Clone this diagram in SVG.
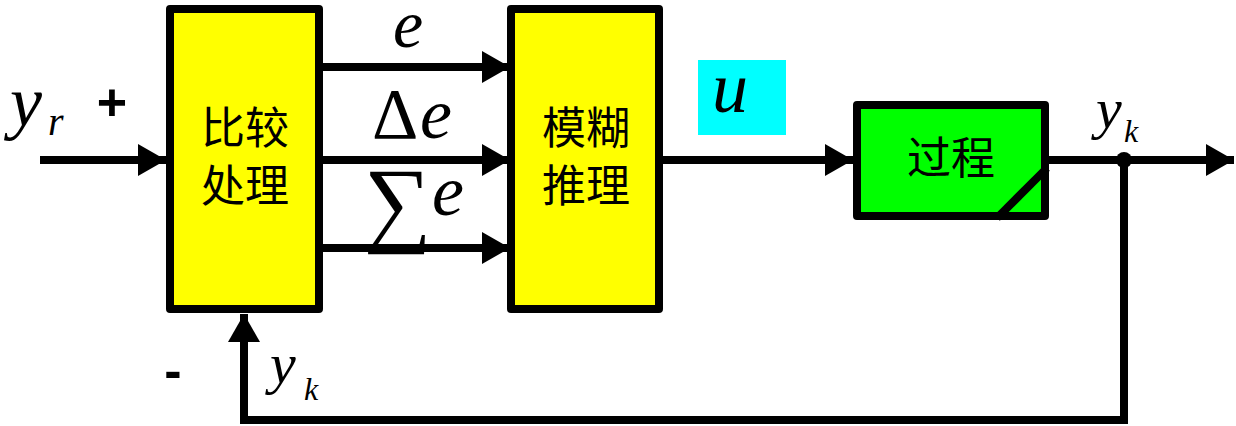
<svg xmlns="http://www.w3.org/2000/svg" width="1236" height="426" viewBox="0 0 1236 426">
<style>
.box{stroke:#000;stroke-width:8;stroke-linejoin:round}
.ln{stroke:#000;stroke-width:8;fill:none}
.cjk{font-family:"Noto Sans CJK SC",sans-serif;font-size:44px;fill:#000;text-anchor:middle}
.m{font-family:"Liberation Serif",serif;font-style:italic;fill:#000}
.g{font-family:"Liberation Serif",serif;fill:#000}
.s{font-family:"Liberation Sans",sans-serif;font-weight:bold;fill:#000}
</style>
<defs>
<marker id="ah" markerUnits="userSpaceOnUse" viewBox="0 0 28 32" refX="28" refY="16" markerWidth="28" markerHeight="32" orient="auto">
<path d="M0,0 L28,16 L0,32 Z" fill="#000"/>
</marker>
</defs>
<g id="connectors">
<line class="ln" x1="40" y1="160" x2="166" y2="160" marker-end="url(#ah)"/>
<line class="ln" x1="323" y1="67" x2="510" y2="67" marker-end="url(#ah)"/>
<line class="ln" x1="323" y1="160" x2="510" y2="160" marker-end="url(#ah)"/>
<line class="ln" x1="323" y1="248" x2="510" y2="248" marker-end="url(#ah)"/>
<line class="ln" x1="663" y1="160" x2="853" y2="160" marker-end="url(#ah)"/>
<line class="ln" x1="1049" y1="160" x2="1234" y2="160" marker-end="url(#ah)"/>
<polyline class="ln" points="1124,160 1124,420 244,420 244,314" marker-end="url(#ah)"/>
<circle cx="1124" cy="160" r="8" fill="#000"/>
</g>
<g id="compare">
<rect class="box" x="170" y="9" width="149" height="300" fill="#ffff00"/>
<text class="cjk" x="245" y="144">比较</text>
<text class="cjk" x="245" y="202">处理</text>
</g>
<g id="fuzzy">
<rect class="box" x="511" y="9" width="148" height="300" fill="#ffff00"/>
<text class="cjk" x="586" y="144">模糊</text>
<text class="cjk" x="586" y="202">推理</text>
</g>
<g id="process">
<rect class="box" x="857" y="105" width="188" height="111" fill="#00ff00"/>
<line class="ln" x1="997" y1="218" x2="1047" y2="168"/>
<text class="cjk" x="951" y="174">过程</text>
</g>
<g id="labels">
<text class="m" x="10" y="126" font-size="72">y</text>
<text class="m" x="48" y="135" font-size="40">r</text>
<text class="s" x="112" y="120" font-size="52" text-anchor="middle">+</text>
<text class="m" x="408" y="47" font-size="68" text-anchor="middle">e</text>
<text class="g" x="372" y="138" font-size="72">Δ</text>
<text class="m" x="420" y="138" font-size="72">e</text>
<text class="g" x="364" y="234" font-size="95">∑</text>
<text class="m" x="432" y="215" font-size="72">e</text>
<rect x="698" y="60" width="88" height="75" fill="#00ffff"/>
<text class="m" x="712" y="112" font-size="72">u</text>
<text class="m" x="1096" y="128" font-size="58">y</text>
<text class="m" x="1124" y="142" font-size="32">k</text>
<text class="s" x="173" y="388" font-size="52" text-anchor="middle">-</text>
<text class="m" x="270" y="383" font-size="58">y</text>
<text class="m" x="304" y="400" font-size="32">k</text>
</g>
</svg>
